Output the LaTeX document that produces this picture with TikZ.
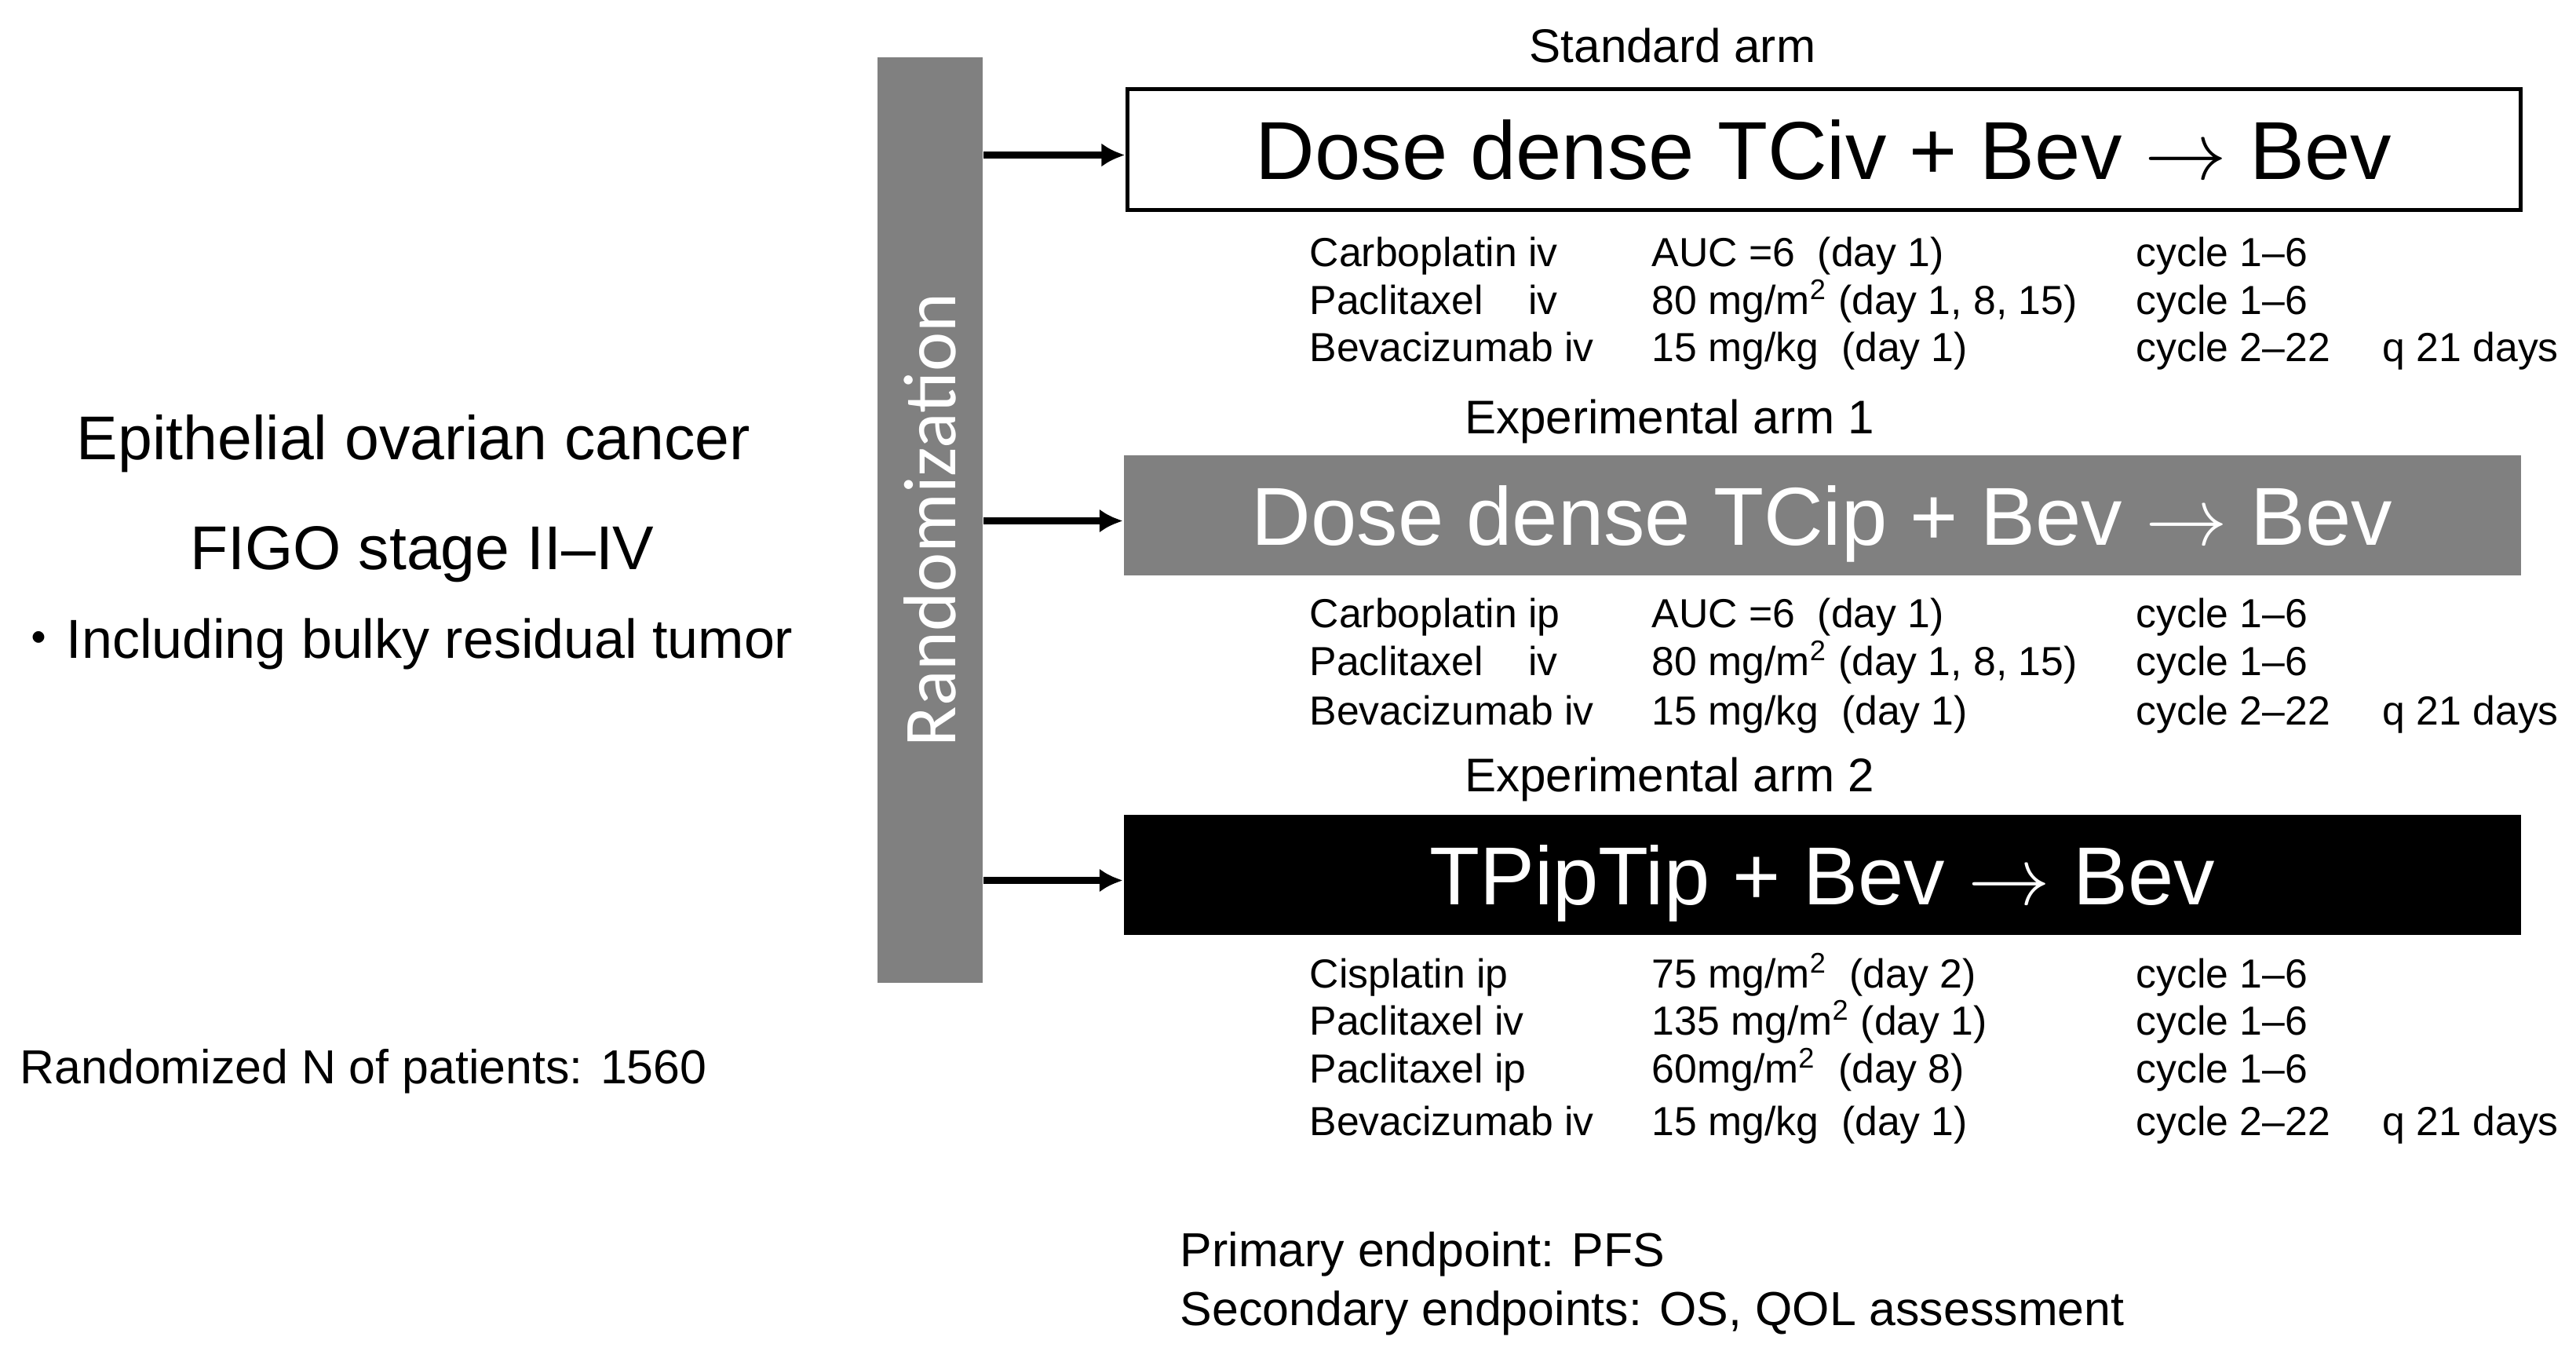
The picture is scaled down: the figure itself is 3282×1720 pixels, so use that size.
\RequirePackage{fix-cm}
\documentclass[tikz,border=0pt]{standalone}
\usepackage{fontspec}
\setmainfont{Liberation Sans}
\newfontfamily\randfont{Carlito}
\newfontfamily\jpfont{Noto Sans CJK JP}
\usetikzlibrary{arrows.meta, positioning}

\definecolor{barGray}{HTML}{808080}

% one dosing row: name prefix, baseline, drug, dose, cycles, interval
\newcommand{\drugrow}[6]{%
  \node[dose] (#1-drug) at (1668,#2) {#3};
  \node[dose] (#1-dose) at (2104,#2) {#4};
  \node[dose] (#1-cyc)  at (2721,#2) {#5};
  \node[dose] (#1-q)    at (3035,#2) {#6};
}

\begin{document}
\begin{tikzpicture}[x=0.01cm, y=-0.01cm, >={Latex[length=0.3cm, width=0.3cm]}]
  \tikzset{
    armbox/.style={minimum width=17.79cm, minimum height=1.53cm, inner sep=0pt,
      text height=0.75cm, text depth=0pt, font=\fontsize{29.8}{32}\selectfont},
    armlabel/.style={anchor=base, inner sep=0pt, font=\fontsize{17.1}{20}\selectfont},
    dose/.style={anchor=base west, inner sep=0pt, font=\fontsize{14.7}{17}\selectfont},
    bigtext/.style={anchor=base, inner sep=0pt, font=\fontsize{22.4}{26}\selectfont},
    note/.style={anchor=base west, inner sep=0pt, font=\fontsize{17.3}{20}\selectfont},
    arm/.style={->, line width=2.3pt}
  }
  \path[use as bounding box, fill=white] (0,0) rectangle (3282,1720);

  % Patients
  \node[bigtext] (ovca) at (527,585) {Epithelial ovarian cancer};
  \node[bigtext] (figo) at (538,725) {FIGO stage II–IV};
  \node[bigtext, anchor=base west, font=\fontsize{19.9}{24}\selectfont] (bulky) at (14,838) {{\jpfont ・}Including bulky residual tumor};
  \node[note] (npat) at (25,1380) {Randomized N of patients: 1560};

  % Randomization bar
  \node[fill=barGray, minimum width=1.34cm, minimum height=11.79cm, inner sep=0pt] (rand) at (1185,662.5) {};
  \node[rotate=90, text=white, font=\randfont\fontsize{27}{30}\selectfont] (randtext) at (rand.center) {Randomization};

  % Standard arm
  \node[armlabel] (lab1) at (2131,79) {Standard arm};
  \node[armbox, draw, line width=0.05cm, minimum width=17.74cm, minimum height=1.54cm] (arm1) at (2323.5,190.5) {Dose dense TCiv + Bev $\rightarrow$ Bev};
  \draw[arm] ([yshift=-0.07cm]rand.east |- arm1.west) -- ([yshift=-0.07cm]arm1.west);
  \drugrow{a1r1}{339}{Carboplatin iv}{AUC =6\ \ (day 1)}{cycle 1–6}{}
  \drugrow{a1r2}{400}{\rlap{Paclitaxel}\phantom{Carboplatin }iv}{80 mg/m\textsuperscript{2} (day 1, 8, 15)}{cycle 1–6}{}
  \drugrow{a1r3}{460}{Bevacizumab iv}{15 mg/kg\ \ (day 1)}{cycle 2–22}{q 21 days}

  % Experimental arm 1
  \node[armlabel] (lab2) at (2127,552) {Experimental arm 1};
  \node[armbox, fill=barGray, text=white] (arm2) at (2321.5,656.5) {Dose dense TCip + Bev $\rightarrow$ Bev};
  \draw[arm] ([yshift=-0.07cm]rand.east |- arm2.west) -- ([yshift=-0.07cm]arm2.west);
  \drugrow{a2r1}{799}{Carboplatin ip}{AUC =6\ \ (day 1)}{cycle 1–6}{}
  \drugrow{a2r2}{860}{\rlap{Paclitaxel}\phantom{Carboplatin }iv}{80 mg/m\textsuperscript{2} (day 1, 8, 15)}{cycle 1–6}{}
  \drugrow{a2r3}{923}{Bevacizumab iv}{15 mg/kg\ \ (day 1)}{cycle 2–22}{q 21 days}

  % Experimental arm 2
  \node[armlabel] (lab3) at (2127,1008) {Experimental arm 2};
  \node[armbox, fill=black, text=white] (arm3) at (2321.5,1114.5) {TPipTip + Bev $\rightarrow$ Bev};
  \draw[arm] ([yshift=-0.07cm]rand.east |- arm3.west) -- ([yshift=-0.07cm]arm3.west);
  \drugrow{a3r1}{1258}{Cisplatin ip}{75 mg/m\textsuperscript{2}\ \ (day 2)}{cycle 1–6}{}
  \drugrow{a3r2}{1318}{Paclitaxel iv}{135 mg/m\textsuperscript{2} (day 1)}{cycle 1–6}{}
  \drugrow{a3r3}{1379}{Paclitaxel ip}{60mg/m\textsuperscript{2}\ \ (day 8)}{cycle 1–6}{}
  \drugrow{a3r4}{1446}{Bevacizumab iv}{15 mg/kg\ \ (day 1)}{cycle 2–22}{q 21 days}

  % Endpoints
  \node[note] (prim) at (1503,1613) {Primary endpoint: PFS};
  \node[note] (sec) at (1503,1688) {Secondary endpoints: OS, QOL assessment};
\end{tikzpicture}
\end{document}
